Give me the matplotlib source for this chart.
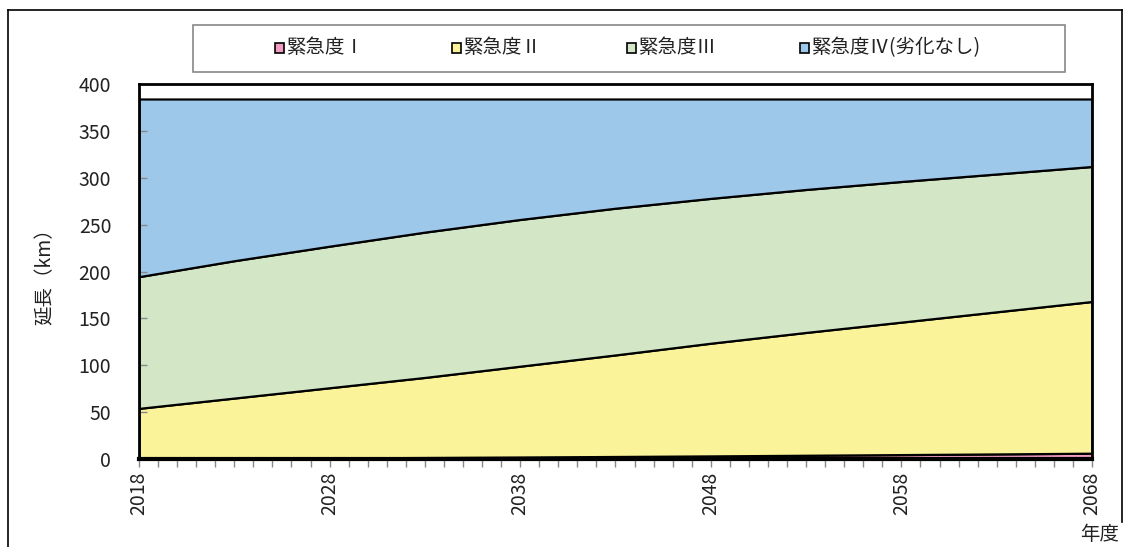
import matplotlib
matplotlib.use("Agg")
import matplotlib.pyplot as plt
from matplotlib.patches import Rectangle
from matplotlib.lines import Line2D
from matplotlib.ticker import MultipleLocator

plt.rcParams['font.family'] = ['Noto Sans CJK JP', 'DejaVu Sans']

# 延長 (km) by urgency level, every 5 fiscal years
years = [2018, 2023, 2028, 2033, 2038, 2043, 2048, 2053, 2058, 2063, 2068]
urgency_1 = [0.3, 0.7, 1.1, 1.6, 2.1, 2.7, 3.3, 4.0, 4.7, 5.4, 6.2]
urgency_2 = [53.7, 64.3, 74.9, 85.4, 96.9, 108.3, 120.2, 131.0, 141.3, 151.6, 161.8]
urgency_3 = [140.5, 146.5, 151.0, 155.0, 156.5, 156.5, 154.5, 152.5, 150.0, 147.0, 144.0]
urgency_4 = [189.5, 172.5, 157.0, 142.0, 128.5, 116.5, 106.0, 96.5, 88.0, 80.0, 72.0]

labels = ['緊急度Ⅰ', '緊急度Ⅱ', '緊急度Ⅲ', '緊急度Ⅳ(劣化なし)']
colors = ['#F39BC0', '#FAF39A', '#D3E7C7', '#9DC8EA']

xticks = [2018, 2028, 2038, 2048, 2058, 2068]
yticks = [0, 50, 100, 150, 200, 250, 300, 350, 400]

W, H = 1131, 547
fig = plt.figure(figsize=(W / 100, H / 100), dpi=100)
ax = fig.add_axes([139 / W, 1 - 459 / H, (1092 - 139) / W, (459 - 84) / H])

ax.stackplot(years, urgency_1, urgency_2, urgency_3, urgency_4,
             colors=colors, edgecolor='black', linewidth=1.6)

ax.set_xlim(2018, 2068)
ax.set_ylim(0, 400)
ax.set_xticks(xticks)
ax.xaxis.set_minor_locator(MultipleLocator(1))
ax.set_yticks(yticks)
ax.tick_params(axis='x', which='both', direction='out', length=6, width=1,
               color='#888888', labelsize=14, labelcolor='#222222',
               labelrotation=90, pad=3)
ax.tick_params(axis='y', which='major', direction='in', length=6, width=1,
               color='#888888', labelsize=14, labelcolor='#222222', pad=20)

for side in ['left', 'right', 'top', 'bottom']:
    ax.spines[side].set_color('black')
    ax.spines[side].set_linewidth(2)
ax.spines['bottom'].set_linewidth(3)

ax.set_ylabel('延長（km）', fontsize=14, color='#222222')
ax.yaxis.set_label_coords(-0.088, 0.5)

fig.text(1100 / W, 1 - 535 / H, '年度', fontsize=14, color='#222222',
         ha='center', va='center')

# outer frame
fig.add_artist(Line2D([8 / W, 8 / W], [0, 1 - 10 / H], transform=fig.transFigure,
                      color='black', linewidth=1.2))
fig.add_artist(Line2D([8 / W, 1122 / W], [1 - 10 / H, 1 - 10 / H],
                      transform=fig.transFigure, color='black', linewidth=1.2))
fig.add_artist(Line2D([1122 / W, 1122 / W], [1 - 10 / H, 1 - 522 / H],
                      transform=fig.transFigure, color='black', linewidth=1.2))

# legend box
fig.add_artist(Rectangle((193 / W, 1 - 72 / H), (1065 - 193) / W, 47 / H,
                         transform=fig.transFigure, facecolor='white',
                         edgecolor='#888888', linewidth=1.2))
legend_x = [275, 452, 627, 800]
ly = 1 - 48 / H
for x, lab, c in zip(legend_x, labels, colors):
    fig.add_artist(Rectangle((x / W, ly - 4.5 / H), 9 / W, 9 / H,
                             transform=fig.transFigure, facecolor=c,
                             edgecolor='black', linewidth=1.2))
    fig.text((x + 11) / W, ly, lab, fontsize=14, color='#222222',
             ha='left', va='center')

fig.savefig('out.png', dpi=100)
